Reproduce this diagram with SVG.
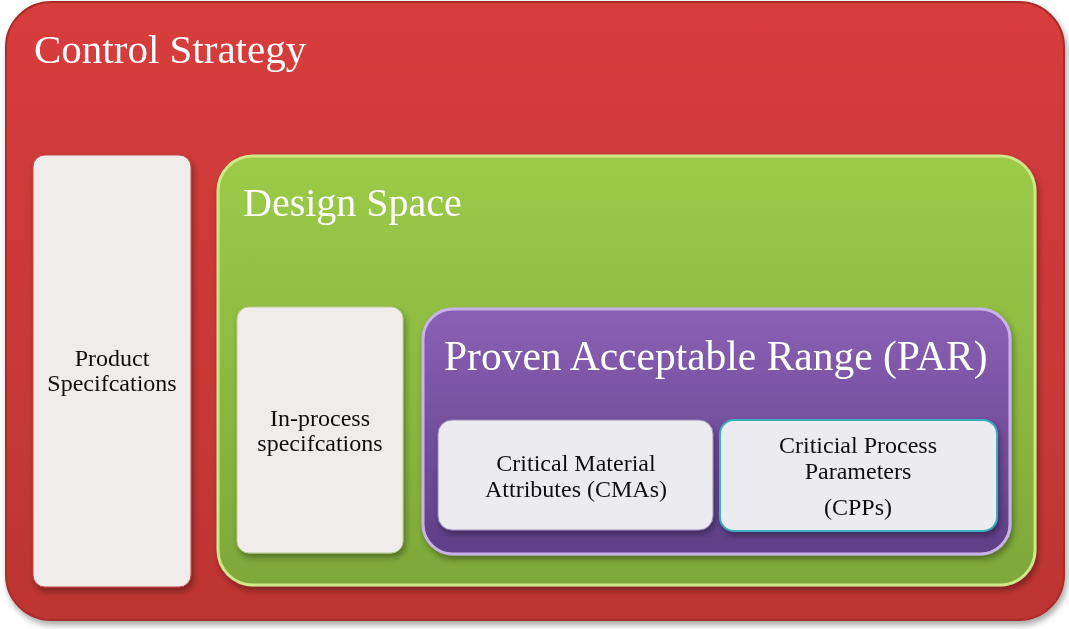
<svg xmlns="http://www.w3.org/2000/svg" width="1069" height="629" viewBox="0 0 1069 629">
<style>
text{font-family:"Liberation Serif","Times New Roman",serif}
.big{fill:#fff}
.lbl{fill:#111;font-size:24px;text-anchor:middle}
.card{fill:#f0ecec}
</style>
<defs>
<linearGradient id="red" x1="0" y1="0" x2="0" y2="1"><stop offset="0" stop-color="#d83c3c"/><stop offset="1" stop-color="#bc3532"/></linearGradient>
<linearGradient id="grn" x1="0" y1="0" x2="0" y2="1"><stop offset="0" stop-color="#9ccb48"/><stop offset="1" stop-color="#7ea83a"/></linearGradient>
<linearGradient id="pur" x1="0" y1="0" x2="0" y2="1"><stop offset="0" stop-color="#8a60b4"/><stop offset="1" stop-color="#5f3f87"/></linearGradient>
<filter id="sh" x="-5%" y="-5%" width="110%" height="112%"><feDropShadow dx="2" dy="4" stdDeviation="3" flood-opacity="0.35"/></filter>
</defs>
<g id="control-strategy" filter="url(#sh)">
<rect x="6" y="2" width="1058" height="618" rx="45" fill="url(#red)" stroke="#a82d2a" stroke-width="2"/>
<text class="big" x="34" y="63" font-size="41">Control Strategy</text>
</g>
<g id="product-specs" filter="url(#sh)">
<rect class="card" x="33" y="155" width="158" height="432" rx="12" stroke="#c04a48"/>
<text class="lbl" x="112" y="366">Product</text>
<text class="lbl" x="112" y="391">Specifcations</text>
</g>
<g id="design-space" filter="url(#sh)">
<rect x="218" y="156" width="817" height="429" rx="35" fill="url(#grn)" stroke="#cfe88a" stroke-width="3"/>
<text class="big" x="243" y="216" font-size="40">Design Space</text>
</g>
<g id="in-process" filter="url(#sh)">
<rect class="card" x="237" y="307" width="166" height="246" rx="12" fill="#f0f0ea" stroke="#b8cf90"/>
<text class="lbl" x="320" y="426">In-process</text>
<text class="lbl" x="320" y="451">specifcations</text>
</g>
<g id="par" filter="url(#sh)">
<rect x="423" y="309" width="587" height="245" rx="30" fill="url(#pur)" stroke="#c9b2ea" stroke-width="3"/>
<text class="big" x="444" y="370" font-size="41.5">Proven Acceptable Range (PAR)</text>
</g>
<g id="cma" filter="url(#sh)">
<rect x="438" y="420" width="275" height="110" rx="14" fill="#ececf0" stroke="#9a88bb"/>
<text class="lbl" x="576" y="471">Critical Material</text>
<text class="lbl" x="576" y="497">Attributes (CMAs)</text>
</g>
<g id="cpp" filter="url(#sh)">
<rect x="720" y="420" width="277" height="111" rx="14" fill="#ececf0" stroke="#3aaec0" stroke-width="2"/>
<text class="lbl" x="858" y="453">Criticial Process</text>
<text class="lbl" x="858" y="479">Parameters</text>
<text class="lbl" x="858" y="515">(CPPs)</text>
</g>
<g id="connectors"/>
</svg>
